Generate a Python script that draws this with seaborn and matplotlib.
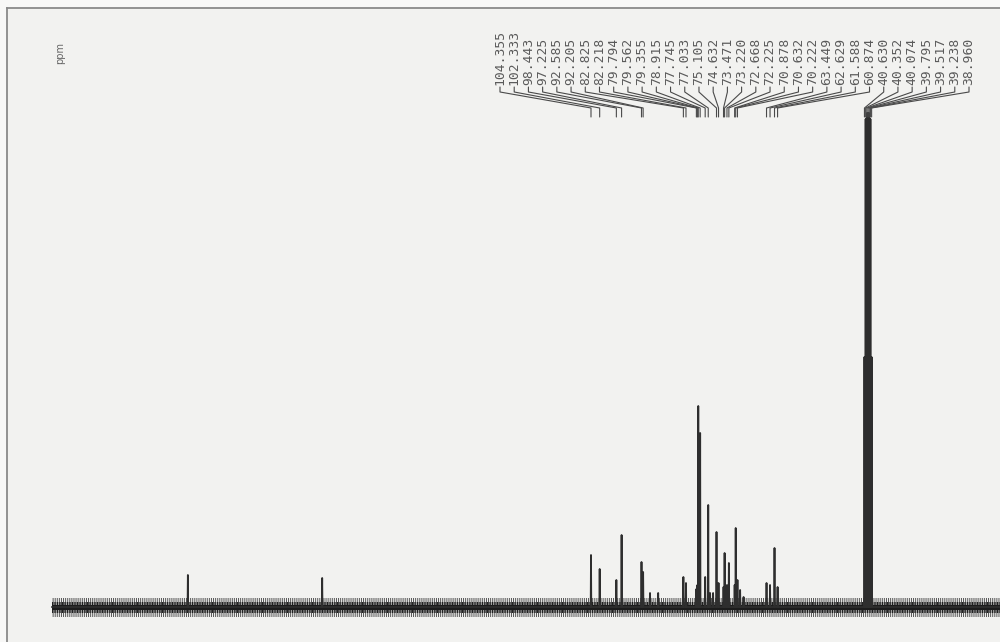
import numpy as np
import pandas as pd
import seaborn as sns
import matplotlib.pyplot as plt

# ---- data (13C NMR peak list, ppm, and peak heights) ----
label_ppm = [104.355, 102.333, 98.443, 97.225, 92.585, 92.205, 82.825, 82.218,
             79.794, 79.562, 79.355, 78.915, 77.745, 77.033, 75.105, 74.632,
             73.471, 73.220, 72.668, 72.225, 70.878, 70.632, 70.222, 63.449,
             62.629, 61.588, 60.874, 40.630, 40.352, 40.074, 39.795, 39.517,
             39.238, 38.960]
label_height = [52, 38, 27, 72, 45, 35, 30, 24,
                18, 22, 201, 174, 30, 102, 75, 24,
                20, 54, 22, 44, 22, 79, 27, 24,
                22, 59, 20, 250, 488, 494, 494, 494,
                488, 250]
extra_ppm = [198.3, 167.0, 90.6, 88.7, 76.6, 75.9, 69.6, 68.8]
extra_height = [32, 29, 14, 14, 14, 14, 17, 10]
label_text = ["104.355", "102.333", "98.443", "97.225", "92.585", "92.205", "82.825",
              "82.218", "79.794", "79.562", "79.355", "78.915", "77.745", "77.033",
              "75.105", "74.632", "73.471", "73.220", "72.668", "72.225", "70.878",
              "70.632", "70.222", "63.449", "62.629", "61.588", "60.874", "40.630",
              "40.352", "40.074", "39.795", "39.517", "39.238", "38.960"]
spectrum_start_ppm = 230.0
spectrum_end_ppm = 5.0

# ---- build the spectrum trace ----
peaks = sorted(zip(label_ppm + extra_ppm, label_height + extra_height), key=lambda t: -t[0])
half_w = 0.07
xs, ys = [spectrum_start_ppm], [0.0]
for p, h in peaks:
    xs += [p + half_w, p, p - half_w]
    ys += [0.0, h, 0.0]
xs.append(spectrum_end_ppm)
ys.append(0.0)
spec = pd.DataFrame({"ppm": xs, "intensity": ys})

sns.set_style("white")
plt.rcParams["hatch.linewidth"] = 0.7
W, H = 1000, 642
fig = plt.figure(figsize=(10, 6.42), dpi=100)
fig.patch.set_facecolor("#f8f8f7")

# axes spans from the scanned frame (x=7px, y=8px) to the image edges
ax = fig.add_axes([7 / W, 0, 993 / W, (H - 8) / H])
ax.set_facecolor("#f2f2f0")

XL0, XL1 = 240.45, 9.04
ax.set_xlim(XL0, XL1)
ax.set_ylim(-35, 599)

# baseline noise band
ax.fill_between([spectrum_start_ppm, spectrum_end_ppm], -10, 9, facecolor="none",
                edgecolor="#555555", hatch="||||||||", linewidth=0, zorder=1)
ax.fill_between([spectrum_start_ppm, spectrum_end_ppm], -6, 5, facecolor="none",
                edgecolor="#1e1e1e", hatch="||||||||||", linewidth=0, zorder=1)
ax.fill_between([spectrum_start_ppm, spectrum_end_ppm], -3, 2.5, color="#1c1c1c",
                linewidth=0, zorder=1)

sns.lineplot(data=spec, x="ppm", y="intensity", sort=False, estimator=None,
             color="#2e2e2e", linewidth=1.3, ax=ax, zorder=2)

# ---- peak labels with leader lines ----
def px_to_ppm(px):
    return XL0 + (px - 7) / 993 * (XL1 - XL0)

n = len(label_ppm)
col_px = np.linspace(500, 969, n)
for i in range(n):
    cx = px_to_ppm(col_px[i])
    pk = label_ppm[i]
    ax.plot([cx, cx, pk, pk], [520, 515, 499, 490], color="#4a4a4a", lw=0.8, zorder=3)
    ax.text(cx, 522, label_text[i], rotation=90, ha="center", va="bottom",
            fontsize=9.4, family="DejaVu Sans Mono", color="#5a5a5a")

fig.text(60 / W, 1 - 53 / H, "ppm", rotation=90, ha="center", va="center",
         fontsize=7, color="#666666")

for s in ["right", "bottom"]:
    ax.spines[s].set_visible(False)
for s in ["top", "left"]:
    ax.spines[s].set_color("#8a8a8a")
    ax.spines[s].set_linewidth(1.3)
ax.set_xticks([])
ax.set_yticks([])
ax.set_xlabel("")
ax.set_ylabel("")

fig.savefig("out.png", dpi=100, facecolor=fig.get_facecolor())
